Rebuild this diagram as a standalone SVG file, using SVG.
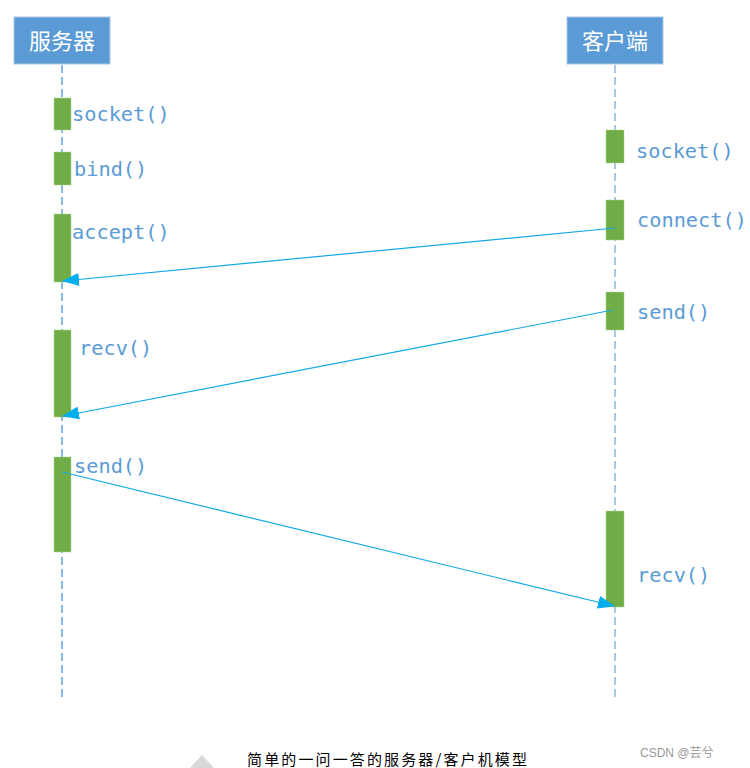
<svg xmlns="http://www.w3.org/2000/svg" width="750" height="768" viewBox="0 0 750 768">
<defs>
<style>
.hdr{fill:#5b9bd5;stroke:#a9c8e6;stroke-width:1}
.hdrt{fill:#fff;font-family:"Noto Sans CJK SC",sans-serif;font-size:22px;text-anchor:middle}
.act{fill:#70ad47;stroke:#a9d18e;stroke-width:0.5}
.lbl{fill:#5b9bd5;font-family:"DejaVu Sans Mono","Liberation Mono",monospace;font-size:20.3px}
.msg{stroke:#12a8e8;stroke-width:1.2;fill:none;marker-end:url(#ah)}
</style>
<marker id="ah" viewBox="0 0 17 13" refX="16" refY="6.5" markerWidth="17" markerHeight="13" markerUnits="userSpaceOnUse" orient="auto">
<path d="M0,0 L17,6.5 L0,13 Z" fill="#00adef"/>
</marker>
</defs>
<rect width="750" height="768" fill="#fff"/>
<g id="lifelines">
<line x1="62" y1="65" x2="62" y2="698" stroke="#3a8ad4" stroke-width="1.2" stroke-dasharray="8,4"/>
<line x1="615" y1="65" x2="615" y2="701" stroke="#a9c8e6" stroke-width="2" stroke-dasharray="8,4"/>
</g>
<g id="server">
<rect class="hdr" x="14" y="17" width="96" height="47"/>
<text class="hdrt" x="62" y="49">服务器</text>
</g>
<g id="client">
<rect class="hdr" x="567" y="17" width="96" height="47"/>
<text class="hdrt" x="615" y="49">客户端</text>
</g>
<g id="server-socket"><rect class="act" x="54" y="98" width="17" height="32"/><text class="lbl" x="72" y="121">socket()</text></g>
<g id="server-bind"><rect class="act" x="54" y="152" width="17" height="33"/><text class="lbl" x="74" y="176">bind()</text></g>
<g id="server-accept"><rect class="act" x="54" y="214" width="17" height="68"/><text class="lbl" x="72" y="239">accept()</text></g>
<g id="server-recv"><rect class="act" x="54" y="330" width="17" height="87"/><text class="lbl" x="79" y="355">recv()</text></g>
<g id="server-send"><rect class="act" x="54" y="457" width="17" height="95"/><text class="lbl" x="74" y="473">send()</text></g>
<g id="client-socket"><rect class="act" x="606" y="130" width="18" height="33"/><text class="lbl" x="636" y="158">socket()</text></g>
<g id="client-connect"><rect class="act" x="606" y="200" width="18" height="40"/><text class="lbl" x="637" y="227">connect()</text></g>
<g id="client-send"><rect class="act" x="606" y="292" width="18" height="38"/><text class="lbl" x="637" y="319">send()</text></g>
<g id="client-recv"><rect class="act" x="606" y="511" width="18" height="96"/><text class="lbl" x="637" y="582">recv()</text></g>
<g id="connectors">
<line class="msg" x1="615" y1="228" x2="63" y2="281"/>
<line class="msg" x1="613" y1="310" x2="63" y2="416"/>
<line class="msg" x1="62" y1="472" x2="614" y2="606"/>
</g>
<polygon points="202,755 190,768 214,768" fill="#d9d9d9"/>
<text x="247" y="765" font-family="'Noto Sans CJK SC',sans-serif" font-size="15" fill="#000" textLength="280">简单的一问一答的服务器/客户机模型</text>
<text x="640" y="757" font-family="'Liberation Sans','Noto Sans CJK SC',sans-serif" font-size="12" fill="#999">CSDN @芸兮</text>
</svg>
